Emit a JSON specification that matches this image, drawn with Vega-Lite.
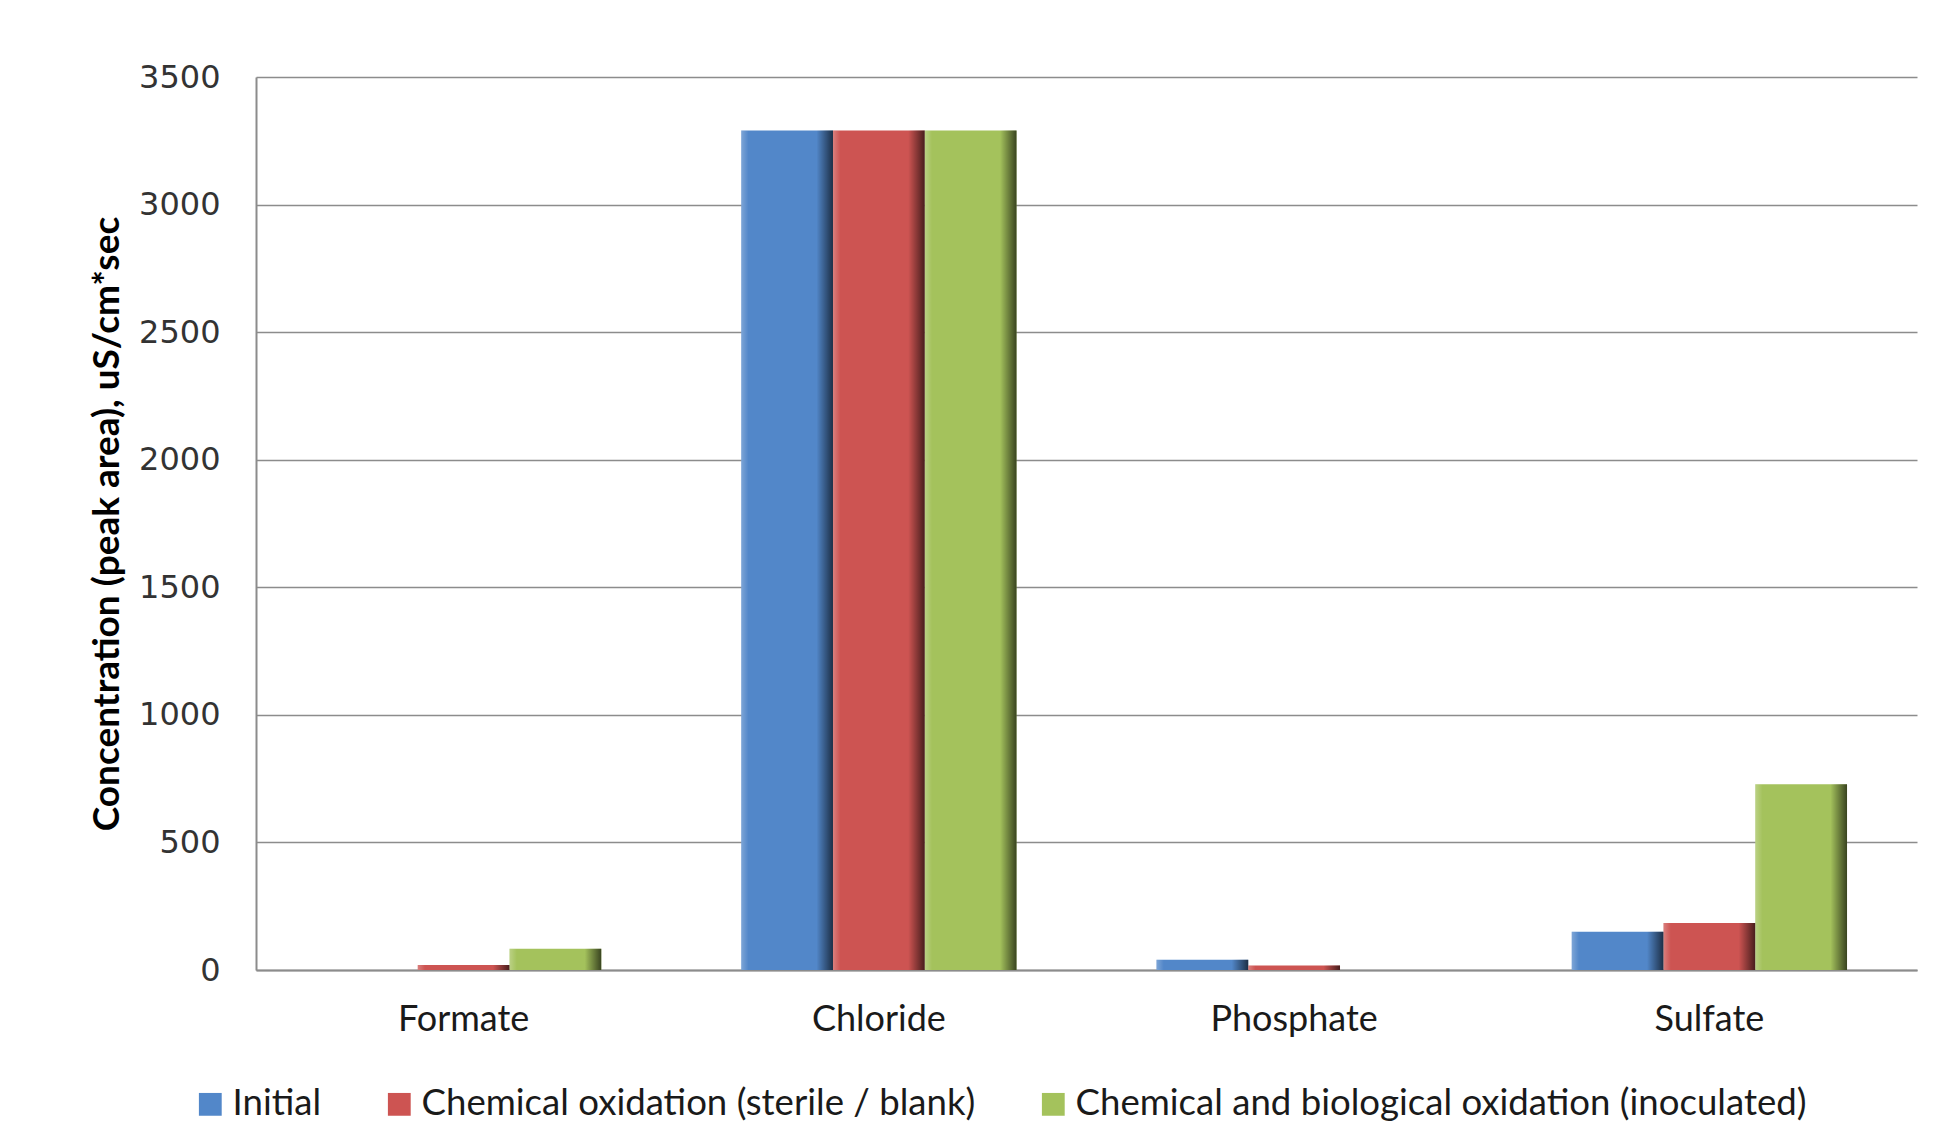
{
  "$schema": "https://vega.github.io/schema/vega-lite/v6.json",
  "width": 1661,
  "height": 893,
  "autosize": {"type": "none"},
  "padding": {"left": 256, "top": 77, "right": 25, "bottom": 169},
  "background": "white",
  "config": {"view": {"stroke": null}, "font": "Lato"},
  "data": {
    "values": [
      {"anion": "Formate", "treatment": "Initial", "value": 0},
      {"anion": "Formate", "treatment": "Chemical oxidation (sterile / blank)", "value": 20},
      {"anion": "Formate", "treatment": "Chemical and biological oxidation (inoculated)", "value": 83},
      {"anion": "Chloride", "treatment": "Initial", "value": 3290},
      {"anion": "Chloride", "treatment": "Chemical oxidation (sterile / blank)", "value": 3290},
      {"anion": "Chloride", "treatment": "Chemical and biological oxidation (inoculated)", "value": 3290},
      {"anion": "Phosphate", "treatment": "Initial", "value": 40},
      {"anion": "Phosphate", "treatment": "Chemical oxidation (sterile / blank)", "value": 18},
      {"anion": "Phosphate", "treatment": "Chemical and biological oxidation (inoculated)", "value": 0},
      {"anion": "Sulfate", "treatment": "Initial", "value": 150},
      {"anion": "Sulfate", "treatment": "Chemical oxidation (sterile / blank)", "value": 184},
      {"anion": "Sulfate", "treatment": "Chemical and biological oxidation (inoculated)", "value": 728}
    ]
  },
  "encoding": {
    "x": {
      "field": "anion",
      "type": "nominal",
      "sort": ["Formate", "Chloride", "Phosphate", "Sulfate"],
      "scale": {"paddingInner": 0.337, "paddingOuter": 0.1685},
      "axis": {
        "title": null,
        "labelAngle": 0,
        "labelFont": "Lato",
        "labelFontSize": 36,
        "labelColor": "#1a1a1a",
        "labelPadding": 32,
        "ticks": false,
        "domainColor": "#8c8c8c",
        "domainWidth": 2
      }
    },
    "xOffset": {
      "field": "treatment",
      "type": "nominal",
      "sort": ["Initial", "Chemical oxidation (sterile / blank)", "Chemical and biological oxidation (inoculated)"],
      "scale": {"paddingInner": 0, "paddingOuter": 0}
    },
    "y": {
      "field": "value",
      "type": "quantitative",
      "scale": {"domain": [0, 3500]},
      "axis": {
        "values": [0, 500, 1000, 1500, 2000, 2500, 3000, 3500],
        "format": "d",
        "title": "Concentration (peak area), uS/cm*sec",
        "titleFont": "Lato",
        "titleFontSize": 37,
        "titleFontWeight": "bold",
        "titleColor": "#000000",
        "titlePadding": 12,
        "labelFont": "DejaVu Sans",
        "labelFontSize": 32,
        "labelColor": "#333333",
        "labelPadding": 36,
        "ticks": false,
        "domainColor": "#8c8c8c",
        "domainWidth": 2,
        "gridColor": "#8c8c8c",
        "gridWidth": 1.5
      }
    }
  },
  "layer": [
    {
      "mark": {"type": "bar"},
      "encoding": {
        "color": {
          "field": "treatment",
          "type": "nominal",
          "scale": {
            "domain": ["Initial", "Chemical oxidation (sterile / blank)", "Chemical and biological oxidation (inoculated)"],
            "range": ["#5287C9", "#CD5452", "#A4C25C"]
          },
          "legend": {
            "title": null,
            "orient": "none",
            "legendX": -64,
            "legendY": 1009,
            "direction": "horizontal",
            "symbolType": "square",
            "symbolSize": 520,
            "symbolStrokeWidth": 0,
            "labelFont": "Lato",
            "labelFontSize": 36.6,
            "labelColor": "#1a1a1a",
            "labelOffset": 4,
            "columnPadding": 59,
            "labelLimit": 1200
          }
        }
      }
    },
    {
      "mark": {
        "type": "bar",
        "color": {
          "gradient": "linear",
          "x1": 0, "y1": 0, "x2": 1, "y2": 0,
          "stops": [
            {"offset": 0, "color": "rgba(255,255,255,0.25)"},
            {"offset": 0.08, "color": "rgba(255,255,255,0)"},
            {"offset": 0.82, "color": "rgba(0,0,0,0)"},
            {"offset": 1, "color": "rgba(0,0,0,0.65)"}
          ]
        }
      }
    }
  ]
}
